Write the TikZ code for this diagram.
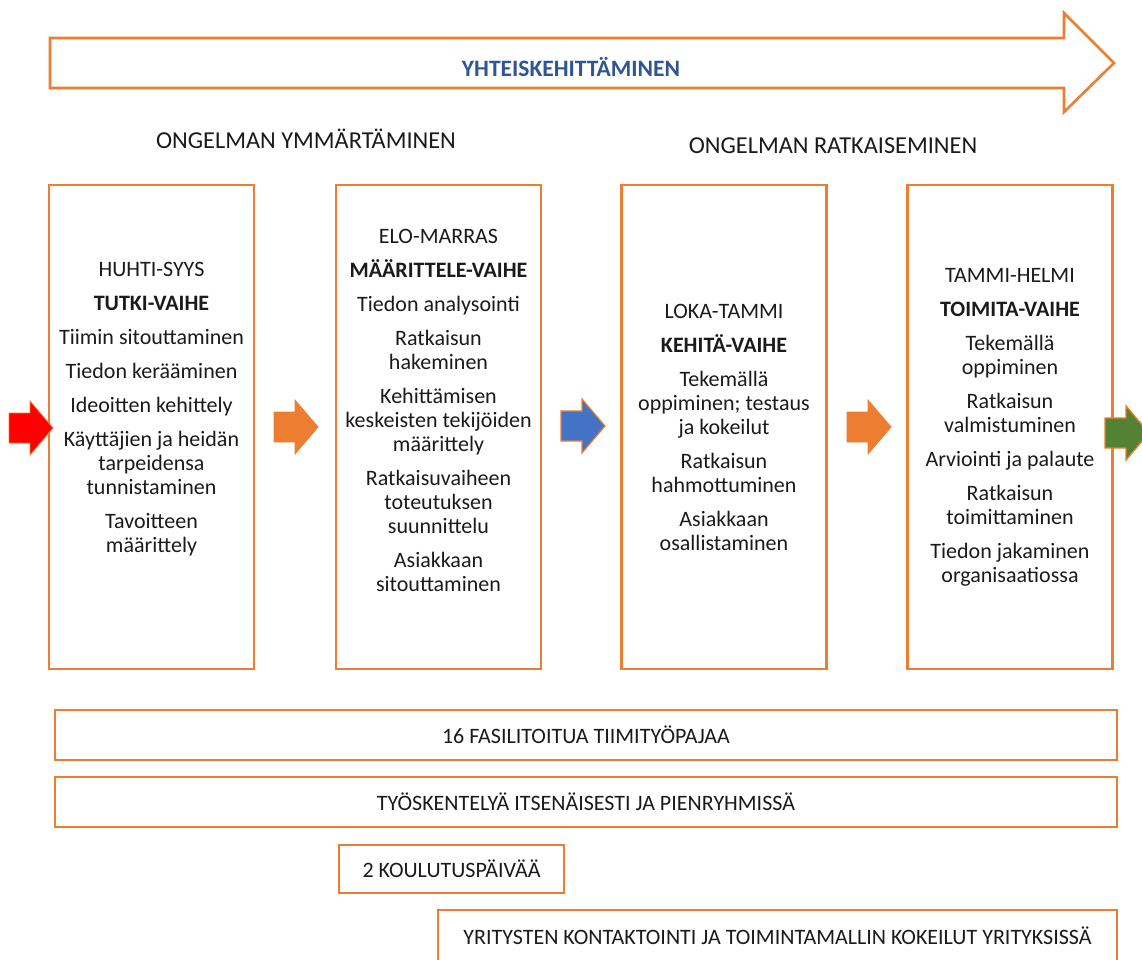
\documentclass[tikz,border=0pt]{standalone}
\usepackage{fontspec}
\setmainfont{Carlito}
\begin{document}
\definecolor{accent}{HTML}{ED7D31}
\definecolor{titleblue}{HTML}{2F5597}
\definecolor{arrowblue}{HTML}{4472C4}
\definecolor{arrowgreen}{HTML}{548235}
\definecolor{ink}{HTML}{1A1A1A}
\begin{tikzpicture}[x=1pt,y=-1pt,
  every node/.style={text=ink, inner sep=0pt},
  body/.style={font=\fontsize{22}{24}\selectfont, align=center},
  heading/.style={font=\fontsize{24.3}{28}\selectfont},
  phasebox/.style={draw=accent, line width=2.4pt, minimum width=205pt, minimum height=484pt},
  bandbox/.style={draw=accent, line width=2.4pt, font=\fontsize{22}{24}\selectfont},
  blockarrow/.pic={\path[pic actions] (0,-15) -- (21,-15) -- (21,-27) -- (44,0) -- (21,27) -- (21,15) -- (0,15) -- cycle;}
]
\useasboundingbox (0,0) rectangle (1142,960);

% long process arrow on top
\draw[accent, line width=2.6pt, line join=miter, fill=white]
  (50,38) -- (1064,38) -- (1064,13) -- (1114,63) -- (1064,112) -- (1064,88) -- (50,88) -- cycle;
\node[font=\fontsize{23.5}{26}\selectfont\bfseries, text=titleblue] (title) at (571,67) {YHTEISKEHITTÄMINEN};

% section headings
\node[heading] (understand) at (306,139) {ONGELMAN YMMÄRTÄMINEN};
\node[heading] (solve) at (833,146) {ONGELMAN RATKAISEMINEN};

% phase boxes
\node[phasebox] (p1) at (151.5,427) {};
\node[phasebox] (p2) at (438.5,427) {};
\node[phasebox] (p3) at (724,427) {};
\node[phasebox] (p4) at (1010,427) {};

\node[body] (t1) at (151.5,409) {HUHTI-SYYS\\[10pt]
  \textbf{TUTKI-VAIHE}\\[10pt]
  Tiimin sitouttaminen\\[10pt]
  Tiedon kerääminen\\[10pt]
  Ideoitten kehittely\\[10pt]
  Käyttäjien ja heidän\\ tarpeidensa\\ tunnistaminen\\[10pt]
  Tavoitteen\\ määrittely};

\node[body] (t2) at (438.5,410) {ELO-MARRAS\\[10pt]
  \textbf{MÄÄRITTELE-VAIHE}\\[10pt]
  Tiedon analysointi\\[10pt]
  Ratkaisun\\ hakeminen\\[10pt]
  Kehittämisen\\ keskeisten tekijöiden\\ määrittely\\[10pt]
  Ratkaisuvaiheen\\ toteutuksen\\ suunnittelu\\[10pt]
  Asiakkaan\\ sitouttaminen};

\node[body] (t3) at (724,427) {LOKA-TAMMI\\[10pt]
  \textbf{KEHITÄ-VAIHE}\\[10pt]
  Tekemällä\\ oppiminen; testaus\\ ja kokeilut\\[10pt]
  Ratkaisun\\ hahmottuminen\\[10pt]
  Asiakkaan\\ osallistaminen};

\node[body] (t4) at (1010,427) {TAMMI-HELMI\\[10pt]
  \textbf{TOIMITA-VAIHE}\\[10pt]
  Tekemällä\\ oppiminen\\[10pt]
  Ratkaisun\\ valmistuminen\\[10pt]
  Arviointi ja palaute\\[10pt]
  Ratkaisun\\ toimittaminen\\[10pt]
  Tiedon jakaminen\\ organisaatiossa};

% block arrows between the phases
\pic[fill=red, draw=accent, line width=0.8pt] at (9,428) {blockarrow};
\pic[fill=accent, draw=accent, line width=0.8pt] at (274,427) {blockarrow};
\pic[fill=arrowblue, draw=accent, line width=1.2pt] at (561,426) {blockarrow};
\pic[fill=accent, draw=accent, line width=0.8pt] at (847,427) {blockarrow};
\pic[fill=arrowgreen, draw=accent, line width=1.4pt] at (1105,433) {blockarrow};

% activity bands
\node[bandbox, minimum width=1062pt, minimum height=50pt] (b1) at (586,735) {16 FASILITOITUA TIIMITYÖPAJAA};
\node[bandbox, minimum width=1062pt, minimum height=50pt] (b2) at (586,802) {TYÖSKENTELYÄ ITSENÄISESTI JA PIENRYHMISSÄ};
\node[bandbox, minimum width=225pt, minimum height=48pt] (b3) at (451.5,869) {2 KOULUTUSPÄIVÄÄ};
\node[bandbox, minimum width=679pt, minimum height=52pt] (b4) at (777.5,936) {YRITYSTEN KONTAKTOINTI JA TOIMINTAMALLIN KOKEILUT YRITYKSISSÄ};
\end{tikzpicture}
\end{document}
